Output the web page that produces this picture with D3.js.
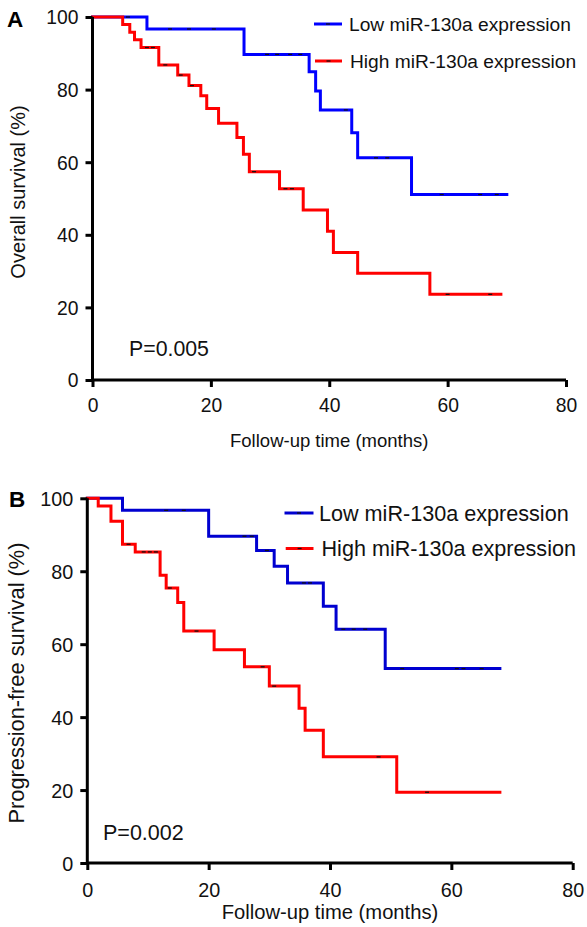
<!DOCTYPE html>
<html>
<head>
<meta charset="utf-8">
<script src="https://cdn.jsdelivr.net/npm/d3@7"></script>
<style>
  html, body { margin: 0; padding: 0; background: #fff; }
  svg { display: block; font-family: "Liberation Sans", Arial, Helvetica, sans-serif; }
</style>
</head>
<body>
<svg id="chart" width="587" height="927"></svg>
<script>
// ---------- DATA ----------
const xTicks = [0, 20, 40, 60, 80];
const yTicks = [0, 20, 40, 60, 80, 100];
const seriesNames = ["Low miR-130a expression", "High miR-130a expression"];

// Panel A: overall survival
const osLowTimes  = [0, 9.2, 25.6, 36.6, 37.7, 38.5, 43.8, 44.8, 53.9, 70];
const osLowSurv   = [100, 96.7, 89.7, 84.9, 79.6, 74.4, 68.1, 61.2, 51.1, 51.1];
const osLowCensor = [6, 13.1, 16.3, 20.5, 29.5, 31.2, 33.4, 35.1, 42.8, 47.9, 49.8, 59, 65.5, 68.3];

const osHighTimes  = [0, 5.1, 6.3, 7.1, 8.2, 11.2, 14.4, 16.3, 18.3, 19.3, 21.3, 24.4, 25.5, 26.5, 31.6, 35.6, 39.7, 40.7, 44.8, 57, 69];
const osHighSurv   = [100, 97.9, 95.8, 93.7, 91.6, 86.8, 84.0, 81.1, 78.3, 74.8, 70.7, 66.8, 62.2, 57.4, 52.7, 46.8, 41.0, 35.1, 29.4, 23.6, 23.6];
const osHighCensor = [9.2, 10.2, 12.3, 14.9, 16.8, 27.3, 32.6, 33.7, 60, 67.2];

// Panel B: progression-free survival
const pfsLowTimes  = [0, 5.8, 20.0, 27.9, 30.8, 33.0, 38.9, 41.0, 49.1, 68];
const pfsLowSurv   = [100, 96.7, 89.6, 85.7, 81.4, 76.8, 70.4, 64.1, 53.3, 53.3];
const pfsLowCensor = [13.0, 15.9, 25.9, 27.1, 29.6, 35.7, 36.7, 42.2, 43.9, 45.8, 51.9, 60.9, 62.0, 65.0];

const pfsHighTimes  = [0, 1.8, 3.9, 5.8, 7.9, 12.0, 13.0, 14.9, 15.9, 20.9, 25.9, 30.0, 34.9, 35.9, 38.9, 51.0, 68];
const pfsHighSurv   = [100, 97.9, 93.7, 87.4, 85.3, 78.9, 75.4, 71.4, 63.6, 58.5, 53.8, 48.5, 42.4, 36.4, 29.1, 19.4, 19.4];
const pfsHighCensor = [6.8, 9.3, 10.3, 11.3, 13.6, 18.0, 28.9, 30.8, 48.0, 56.0];

const panels = [
  {
    letter: "A", yLabel: "Overall survival (%)", xLabel: "Follow-up time (months)", pText: "P=0.005",
    colors: ["#0000ff", "#ff0000"],
    series: [
      {t: osLowTimes, s: osLowSurv, c: osLowCensor},
      {t: osHighTimes, s: osHighSurv, c: osHighCensor}
    ],
    x0: 92.5, x1: 566, yTop: 17, yBot: 380,
    letterX: 7, letterY: 27, yLabX: 25, yLabCY: 192, yLabFs: 20,
    tickFs: 19.3, tickLabY: 412, xLabY: 447, xLabFs: 18.5,
    pX: 129, pY: 356, pFs: 21.3,
    legX0: [314, 315], legX1: 342, legTextX: [349, 350], legY: [24, 61], legDy: 6.5, legFs: 19.2
  },
  {
    letter: "B", yLabel: "Progression-free survival (%)", xLabel: "Follow-up time (months)", pText: "P=0.002",
    colors: ["#0000d0", "#ff0000"],
    series: [
      {t: pfsLowTimes, s: pfsLowSurv, c: pfsLowCensor},
      {t: pfsHighTimes, s: pfsHighSurv, c: pfsHighCensor}
    ],
    x0: 87.3, x1: 572.7, yTop: 498.3, yBot: 863,
    letterX: 9, letterY: 507, yLabX: 24, yLabCY: 683, yLabFs: 21.8,
    tickFs: 19.8, tickLabY: 897, xLabY: 919, xLabFs: 20.2,
    pX: 103, pY: 840, pFs: 21.5,
    legX0: [284.5, 285.7], legX1: 313.5, legTextX: [319, 321.5], legY: [513, 548.5], legDy: 7.5, legFs: 21.6
  }
];

// ---------- DRAW ----------
const svg = d3.select("#chart");

function stepValue(times, surv, t) {
  let v = surv[0];
  for (let i = 0; i < times.length; i++) { if (times[i] <= t) v = surv[i]; }
  return v;
}

panels.forEach(p => {
  const x = d3.scaleLinear().domain([0, 80]).range([p.x0, p.x1]);
  const y = d3.scaleLinear().domain([0, 100]).range([p.yBot, p.yTop]);
  const g = svg.append("g");

  // curves
  const line = d3.line().x(d => x(d[0])).y(d => y(d[1])).curve(d3.curveStepAfter);
  p.series.forEach((ser, i) => {
    const pts = ser.t.map((t, k) => [t, ser.s[k]]);
    g.append("path").attr("d", line(pts)).attr("fill", "none")
      .attr("stroke", p.colors[i]).attr("stroke-width", 3)
      .attr("stroke-linejoin", "miter").attr("stroke-linecap", "square");
    g.selectAll(null).data(ser.c).enter().append("line")
      .attr("x1", d => x(d) - 2).attr("x2", d => x(d) + 2)
      .attr("y1", d => y(stepValue(ser.t, ser.s, d)))
      .attr("y2", d => y(stepValue(ser.t, ser.s, d)))
      .attr("stroke", "#111").attr("stroke-width", 1.3);
  });

  // axes
  const xAxis = d3.axisBottom(x).tickValues(xTicks).tickSize(7).tickPadding(0);
  const yAxis = d3.axisLeft(y).tickValues(yTicks).tickSize(7).tickPadding(0);
  const gx = g.append("g").attr("transform", `translate(0,${p.yBot})`).call(xAxis);
  const gy = g.append("g").attr("transform", `translate(${p.x0},0)`).call(yAxis);
  [gx, gy].forEach(a => {
    a.attr("font-size", null).attr("font-family", null);
    a.select(".domain").attr("stroke", "#000").attr("stroke-width", 3);
    a.selectAll(".tick line").attr("stroke", "#000").attr("stroke-width", 3);
    a.selectAll(".tick text").attr("fill", "#111").style("font-size", p.tickFs + "px")
      .style("font-family", "'Liberation Sans', Arial, sans-serif");
  });
  gx.select(".domain").attr("d", `M${p.x0},0H${p.x1}`);
  gy.select(".domain").attr("d", `M0,${p.yBot}V${p.yTop}`);
  gx.selectAll(".tick text").attr("dy", null).attr("y", p.tickLabY - p.yBot);
  gy.selectAll(".tick text").attr("x", -14).attr("dy", "0.36em");

  // axis titles
  g.append("text").attr("x", (p.x0 + p.x1) / 2).attr("y", p.xLabY)
    .attr("text-anchor", "middle").style("font-size", p.xLabFs + "px").attr("fill", "#111")
    .text(p.xLabel);
  g.append("text").attr("transform", `translate(${p.yLabX},${p.yLabCY}) rotate(-90)`)
    .attr("text-anchor", "middle").style("font-size", p.yLabFs + "px").attr("fill", "#111")
    .text(p.yLabel);

  // panel letter
  g.append("text").attr("x", p.letterX).attr("y", p.letterY)
    .style("font-size", "22.5px").style("font-weight", "bold").attr("fill", "#000")
    .text(p.letter);

  // p value
  g.append("text").attr("x", p.pX).attr("y", p.pY)
    .style("font-size", p.pFs + "px").attr("fill", "#111").text(p.pText);

  // legend
  seriesNames.forEach((name, i) => {
    const ly = p.legY[i];
    const lx0 = p.legX0[i];
    g.append("line").attr("x1", lx0).attr("x2", p.legX1).attr("y1", ly).attr("y2", ly)
      .attr("stroke", p.colors[i]).attr("stroke-width", 3);
    g.append("line").attr("x1", (lx0 + p.legX1) / 2 - 2).attr("x2", (lx0 + p.legX1) / 2 + 2)
      .attr("y1", ly).attr("y2", ly).attr("stroke", "#111").attr("stroke-width", 1.3);
    g.append("text").attr("x", p.legTextX[i]).attr("y", ly + p.legDy)
      .style("font-size", p.legFs + "px").attr("fill", "#111")
      .text(name);
  });
});
</script>
</body>
</html>
